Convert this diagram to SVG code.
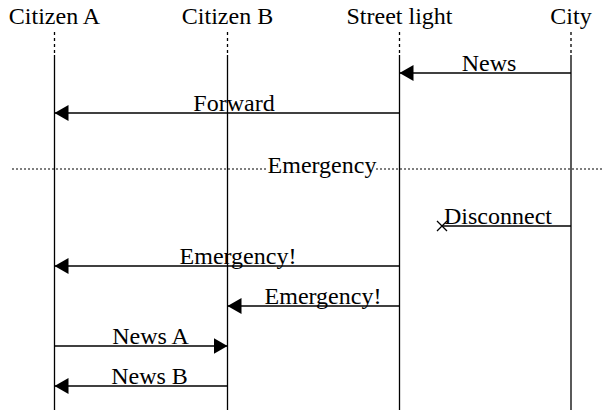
<svg xmlns="http://www.w3.org/2000/svg" width="610" height="413" viewBox="0 0 610 413">
<style>
text{font-family:"Liberation Serif","Times New Roman",serif;font-size:24px;fill:#000}
.mid{text-anchor:middle}
.life{stroke:#000;stroke-width:1.3;fill:none}
.dash{stroke:#000;stroke-width:1.3;stroke-dasharray:3 3;fill:none}
.msg{stroke:#000;stroke-width:1.3;fill:none}
</style>
<defs>
<marker id="ah" markerWidth="15" markerHeight="16" refX="14" refY="8" orient="auto" markerUnits="userSpaceOnUse">
<path d="M0,0 L14,8 L0,16 Z" fill="#000"/>
</marker>
</defs>
<rect width="610" height="413" fill="#fff"/>
<g id="citizenA">
<text class="mid" x="54.5" y="24">Citizen A</text>
<line class="dash" x1="54.5" y1="32" x2="54.5" y2="55"/>
<line class="life" x1="54.5" y1="55" x2="54.5" y2="410"/>
</g>
<g id="citizenB">
<text class="mid" x="227.5" y="24">Citizen B</text>
<line class="dash" x1="227.5" y1="32" x2="227.5" y2="55"/>
<line class="life" x1="227.5" y1="55" x2="227.5" y2="410"/>
</g>
<g id="streetlight">
<text class="mid" x="399.5" y="24">Street light</text>
<line class="dash" x1="399.5" y1="32" x2="399.5" y2="55"/>
<line class="life" x1="399.5" y1="55" x2="399.5" y2="410"/>
</g>
<g id="city">
<text class="mid" x="571" y="24">City</text>
<line class="dash" x1="571" y1="32" x2="571" y2="55"/>
<line class="life" x1="571" y1="55" x2="571" y2="410"/>
</g>
<g id="divider">
<line x1="12" y1="169" x2="604" y2="169" stroke="#000" stroke-width="1.2" stroke-dasharray="2 2"/>
<rect x="268" y="156" width="108" height="22" fill="#fff"/>
<text class="mid" x="322" y="173">Emergency</text>
</g>
<g id="connectors">
<line class="msg" x1="571" y1="73" x2="399.5" y2="73" marker-end="url(#ah)"/>
<text class="mid" x="489" y="71">News</text>
<line class="msg" x1="399.5" y1="113" x2="54.5" y2="113" marker-end="url(#ah)"/>
<text class="mid" x="234" y="111">Forward</text>
<line class="msg" x1="571" y1="226" x2="442" y2="226"/>
<path class="msg" d="M437,221 L447,231 M437,231 L447,221"/>
<text x="444" y="224">Disconnect</text>
<line class="msg" x1="399.5" y1="266" x2="54.5" y2="266" marker-end="url(#ah)"/>
<text class="mid" x="238" y="264">Emergency!</text>
<line class="msg" x1="399.5" y1="306" x2="227.5" y2="306" marker-end="url(#ah)"/>
<text class="mid" x="323" y="304">Emergency!</text>
<line class="msg" x1="54.5" y1="346" x2="227.5" y2="346" marker-end="url(#ah)"/>
<text class="mid" x="150.5" y="344">News A</text>
<line class="msg" x1="227.5" y1="386" x2="54.5" y2="386" marker-end="url(#ah)"/>
<text class="mid" x="149.5" y="384">News B</text>
</g>
</svg>
